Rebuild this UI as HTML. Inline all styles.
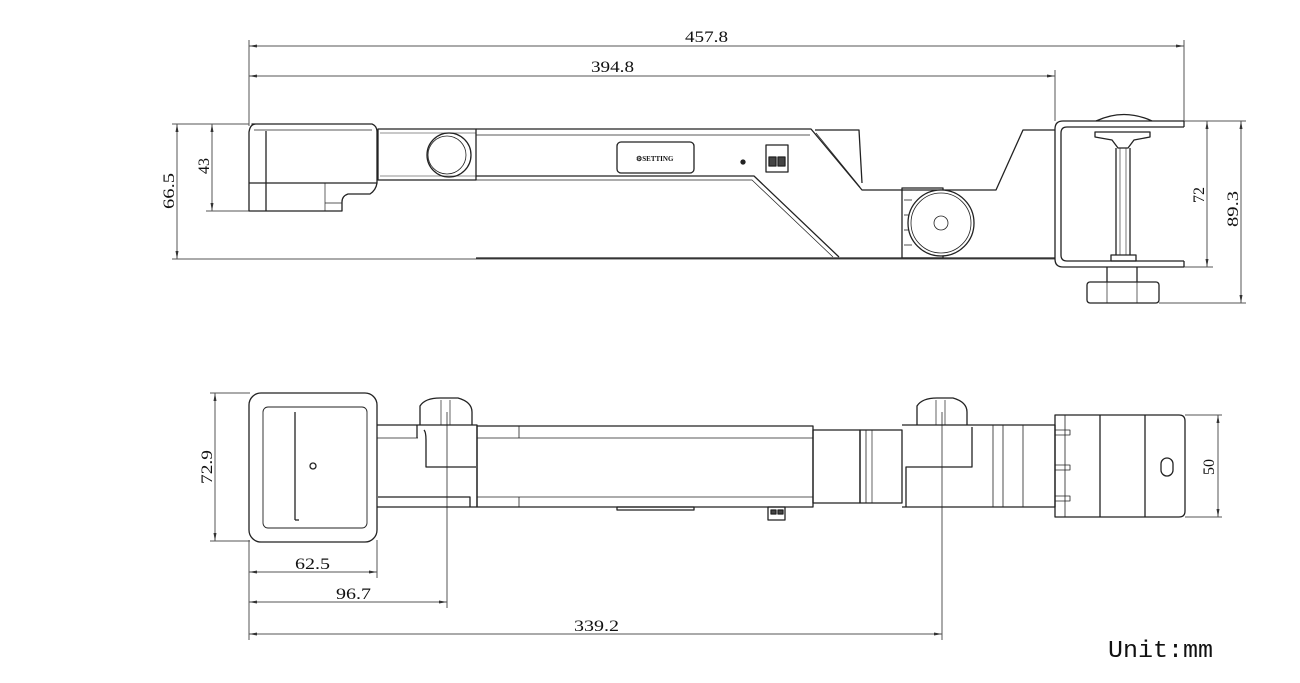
<!DOCTYPE html>
<html><head><meta charset="utf-8"><style>
html,body{margin:0;padding:0;background:#fff;}
svg{display:block;}
text{font-family:"Liberation Serif",serif;fill:#111;}
</style></head><body>
<svg width="1300" height="683" viewBox="0 0 1300 683" xmlns="http://www.w3.org/2000/svg">
<defs>
<marker id="a" markerWidth="8" markerHeight="6" refX="8" refY="3" orient="auto-start-reverse" markerUnits="userSpaceOnUse"><path d="M0,1.5 L8,3 L0,4.5z" fill="#333"/></marker>
</defs>
<g stroke="#555" stroke-width="1" fill="none">
<line x1="249" y1="40" x2="249" y2="126"/>
<line x1="1184" y1="40" x2="1184" y2="121"/>
<line x1="1055" y1="70" x2="1055" y2="121"/>
<line x1="249" y1="46" x2="1184" y2="46" marker-start="url(#a)" marker-end="url(#a)"/>
<line x1="249" y1="76" x2="1055" y2="76" marker-start="url(#a)" marker-end="url(#a)"/>
<line x1="172" y1="124" x2="249" y2="124"/>
<line x1="206" y1="211" x2="249" y2="211"/>
<line x1="172" y1="259" x2="1055" y2="259"/>
<line x1="177" y1="124" x2="177" y2="259" marker-start="url(#a)" marker-end="url(#a)"/>
<line x1="212" y1="124" x2="212" y2="211" marker-start="url(#a)" marker-end="url(#a)"/>
<line x1="1184" y1="121" x2="1246" y2="121"/>
<line x1="1184" y1="267" x2="1213" y2="267"/>
<line x1="1159" y1="303" x2="1246" y2="303"/>
<line x1="1207" y1="121" x2="1207" y2="267" marker-start="url(#a)" marker-end="url(#a)"/>
<line x1="1241" y1="121" x2="1241" y2="303" marker-start="url(#a)" marker-end="url(#a)"/>
<line x1="210" y1="393" x2="250" y2="393"/>
<line x1="210" y1="541" x2="250" y2="541"/>
<line x1="215" y1="393" x2="215" y2="541" marker-start="url(#a)" marker-end="url(#a)"/>
<line x1="1185" y1="415" x2="1222" y2="415"/>
<line x1="1185" y1="517" x2="1222" y2="517"/>
<line x1="1218" y1="415" x2="1218" y2="517" marker-start="url(#a)" marker-end="url(#a)"/>
<line x1="249" y1="540" x2="249" y2="640"/>
<line x1="377" y1="540" x2="377" y2="578"/>
<line x1="447" y1="412" x2="447" y2="608"/>
<line x1="942" y1="412" x2="942" y2="640"/>
<line x1="249" y1="572" x2="377" y2="572" marker-start="url(#a)" marker-end="url(#a)"/>
<line x1="249" y1="602" x2="447" y2="602" marker-start="url(#a)" marker-end="url(#a)"/>
<line x1="249" y1="634" x2="942" y2="634" marker-start="url(#a)" marker-end="url(#a)"/>
</g>

<g stroke="#222" stroke-width="1.3" fill="none" stroke-linejoin="round">
<path d="M252,124 L372,124 Q377,126 377,132 L377,183 Q376,190 370,194 L348,194 Q342,196 342,202 L342,211 L249,211 L249,132 Q250,124 256,124z"/>
<line x1="249" y1="183" x2="377" y2="183"/>
<line x1="266" y1="131" x2="266" y2="211"/>
<line x1="254" y1="130" x2="372" y2="130" stroke-width="0.7"/>
<line x1="325" y1="183" x2="325" y2="211" stroke-width="0.7"/>
<line x1="325" y1="203" x2="342" y2="203" stroke-width="0.7"/>
<rect x="378" y="129" width="98" height="51"/>
<line x1="380" y1="133" x2="476" y2="133" stroke-width="0.6"/>
<line x1="380" y1="176" x2="476" y2="176" stroke-width="0.6"/>
<circle cx="449" cy="155" r="22"/>
<circle cx="447" cy="155" r="19" stroke-width="0.8"/>
<path d="M476,129 L811,129 L862,190 L996,190 L1023,130 L1055,130"/>
<line x1="476" y1="135" x2="810" y2="135" stroke-width="0.7"/>
<path d="M815,130 L859,130 L862,183"/>
<line x1="816" y1="133" x2="860" y2="187" stroke-width="0.7"/>
<path d="M476,176 L754,176 L839,257"/>
<path d="M476,180 L752,180 L833,257" stroke-width="0.7"/>
<line x1="476" y1="258" x2="1055" y2="258"/>
<rect x="617" y="142" width="77" height="31" rx="4"/>
<text x="636" y="161" font-size="7" fill="#222" stroke="none" font-weight="bold" font-family="Liberation Sans">⚙SETTING</text>
<circle cx="743" cy="162" r="2" fill="#222"/>
<rect x="766" y="145" width="22" height="27"/>
<rect x="769" y="157" width="7" height="9" fill="#444"/>
<rect x="778" y="157" width="7" height="9" fill="#444"/>
<rect x="902" y="188" width="41" height="70"/>
<line x1="904" y1="200" x2="912" y2="200" stroke-width="0.8"/>
<line x1="904" y1="215" x2="912" y2="215" stroke-width="0.8"/>
<line x1="904" y1="230" x2="912" y2="230" stroke-width="0.8"/>
<line x1="904" y1="245" x2="912" y2="245" stroke-width="0.8"/>
<circle cx="941" cy="223" r="33" fill="#fff"/>
<circle cx="941" cy="223" r="30" stroke-width="0.8"/>
<circle cx="941" cy="223" r="7" stroke-width="0.8"/>
<path d="M1184,121 L1063,121 Q1055,121 1055,129 L1055,259 Q1055,267 1063,267 L1184,267"/>
<path d="M1184,127 L1067,127 Q1061,127 1061,133 L1061,255 Q1061,261 1067,261 L1184,261"/>
<line x1="1184" y1="121" x2="1184" y2="127"/>
<line x1="1184" y1="261" x2="1184" y2="267"/>
<path d="M1096,121 Q1124,108 1152,121"/>
<path d="M1095,132 L1150,132 L1150,137 L1134,140 L1128,148 L1118,148 L1112,140 L1095,137z"/>
<line x1="1116" y1="148" x2="1116" y2="255"/>
<line x1="1130" y1="148" x2="1130" y2="255"/>
<line x1="1120" y1="148" x2="1120" y2="255" stroke-width="0.6"/>
<line x1="1126" y1="148" x2="1126" y2="255" stroke-width="0.6"/>
<rect x="1111" y="255" width="25" height="6"/>
<line x1="1107" y1="267" x2="1107" y2="282"/>
<line x1="1137" y1="267" x2="1137" y2="282"/>
<rect x="1087" y="282" width="72" height="21" rx="3"/>
<line x1="1107" y1="282" x2="1107" y2="303" stroke-width="0.7"/>
<line x1="1137" y1="282" x2="1137" y2="303" stroke-width="0.7"/>

<rect x="249" y="393" width="128" height="149" rx="12"/>
<rect x="263" y="407" width="104" height="121" rx="5" stroke-width="0.9"/>
<line x1="295" y1="412" x2="295" y2="520"/>
<line x1="295" y1="520" x2="299" y2="520"/>
<circle cx="313" cy="466" r="3"/>
<path d="M420,425 L420,406 Q425,398 440,398 L458,398 Q472,402 472,412 L472,425"/>
<line x1="441" y1="400" x2="441" y2="425" stroke-width="0.7"/>
<line x1="450" y1="400" x2="450" y2="425" stroke-width="0.7"/>
<path d="M377,425 L477,425 L477,507 L377,507"/>
<line x1="377" y1="438" x2="418" y2="438" stroke-width="0.8"/>
<path d="M417,425 L417,438"/>
<path d="M424,430 Q426,432 426,440 L426,467 L476,467"/>
<path d="M378,497 L470,497 L470,507"/>
<rect x="477" y="426" width="336" height="81"/>
<line x1="477" y1="438" x2="813" y2="438" stroke-width="0.8"/>
<line x1="477" y1="497" x2="813" y2="497" stroke-width="0.8"/>
<line x1="519" y1="426" x2="519" y2="438" stroke-width="0.8"/>
<line x1="519" y1="497" x2="519" y2="507" stroke-width="0.8"/>
<rect x="617" y="507" width="77" height="3"/>
<rect x="768" y="507" width="17" height="13"/>
<rect x="771" y="510" width="5" height="4" fill="#444"/>
<rect x="778" y="510" width="5" height="4" fill="#444"/>
<rect x="813" y="430" width="47" height="73"/>
<rect x="860" y="430" width="42" height="73"/>
<line x1="866" y1="430" x2="866" y2="503" stroke-width="0.8"/>
<line x1="872" y1="430" x2="872" y2="503" stroke-width="0.7"/>
<path d="M902,425 L1055,425 L1055,507 L902,507"/>
<path d="M972,427 L972,467 L906,467 L906,507"/>
<line x1="993" y1="425" x2="993" y2="507" stroke-width="0.8"/>
<line x1="1003" y1="425" x2="1003" y2="507" stroke-width="0.8"/>
<line x1="1023" y1="425" x2="1023" y2="507" stroke-width="0.8"/>
<path d="M917,425 L917,406 Q922,398 937,398 L953,398 Q967,402 967,412 L967,425"/>
<line x1="936" y1="400" x2="936" y2="425" stroke-width="0.7"/>
<line x1="945" y1="400" x2="945" y2="425" stroke-width="0.7"/>
<path d="M1055,415 L1179,415 Q1185,415 1185,421 L1185,511 Q1185,517 1179,517 L1055,517z"/>
<line x1="1065" y1="415" x2="1065" y2="517" stroke-width="0.8"/>
<line x1="1100" y1="415" x2="1100" y2="517"/>
<line x1="1145" y1="415" x2="1145" y2="517"/>
<rect x="1161" y="458" width="12" height="18" rx="6"/>
<rect x="1055" y="430" width="15" height="5" stroke-width="0.8"/>
<rect x="1055" y="465" width="15" height="5" stroke-width="0.8"/>
<rect x="1055" y="496" width="15" height="5" stroke-width="0.8"/>
</g>

<g font-size="16">
<text x="685" y="42" textLength="43" lengthAdjust="spacingAndGlyphs">457.8</text>
<text x="591" y="72" textLength="43" lengthAdjust="spacingAndGlyphs">394.8</text>
<text x="295" y="569" textLength="35" lengthAdjust="spacingAndGlyphs">62.5</text>
<text x="336" y="599" textLength="35" lengthAdjust="spacingAndGlyphs">96.7</text>
<text x="574" y="631" textLength="45" lengthAdjust="spacingAndGlyphs">339.2</text>
<text transform="translate(174,191) rotate(-90)" text-anchor="middle" textLength="36" lengthAdjust="spacingAndGlyphs">66.5</text>
<text transform="translate(209,166) rotate(-90)" text-anchor="middle">43</text>
<text transform="translate(1204,195) rotate(-90)" text-anchor="middle">72</text>
<text transform="translate(1238,209) rotate(-90)" text-anchor="middle" textLength="36" lengthAdjust="spacingAndGlyphs">89.3</text>
<text transform="translate(212,467) rotate(-90)" text-anchor="middle" textLength="34" lengthAdjust="spacingAndGlyphs">72.9</text>
<text transform="translate(1214,467) rotate(-90)" text-anchor="middle">50</text>
</g>
<text x="1108" y="657" font-size="24" textLength="105" lengthAdjust="spacingAndGlyphs" style="font-family:'Liberation Mono',monospace">Unit:mm</text>
</svg>
</body></html>
